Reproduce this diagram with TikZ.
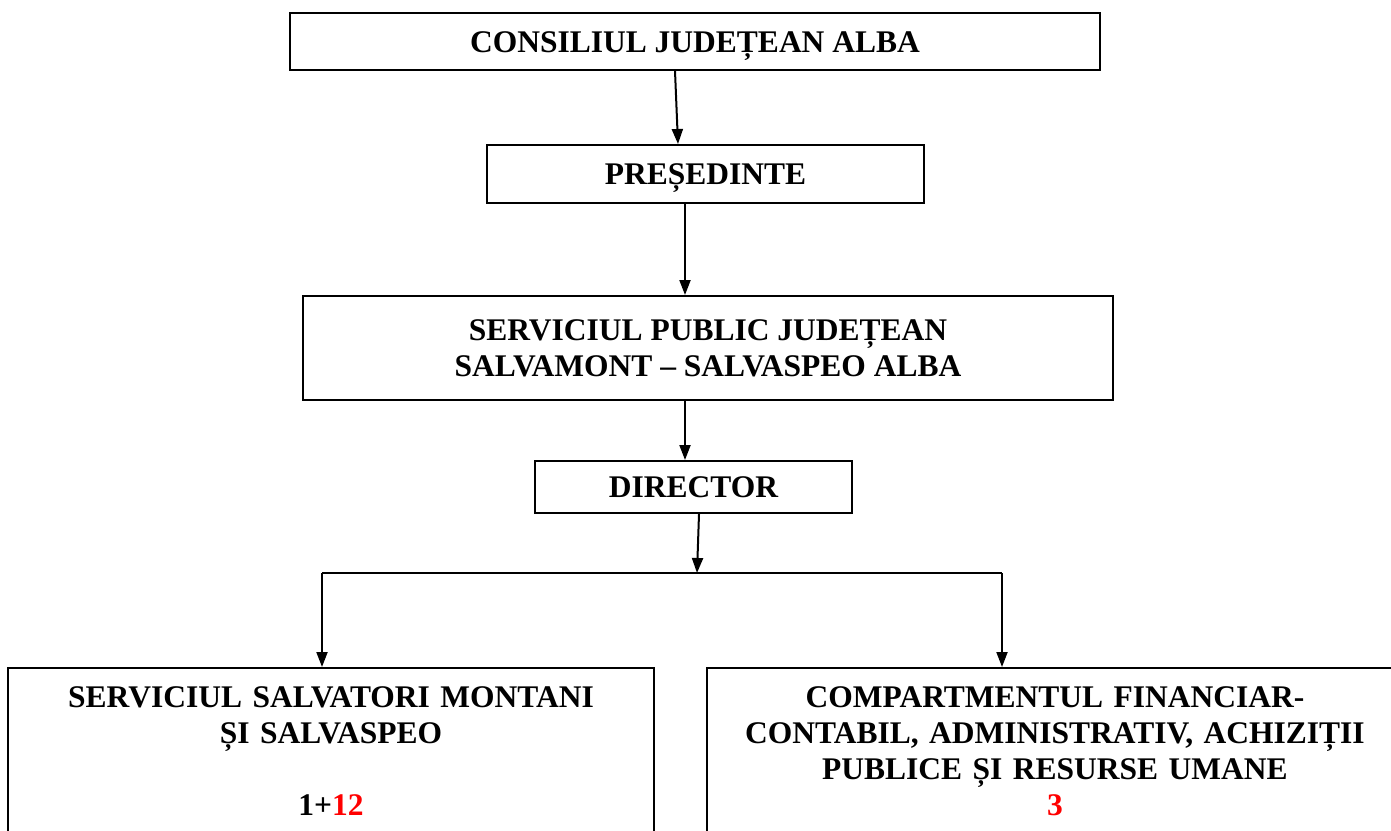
\documentclass[tikz,border=0pt]{standalone}
\usepackage{fontspec}
\setmainfont{Liberation Serif}
\usepackage{xcolor}
\usetikzlibrary{arrows.meta, positioning}
\tikzstyle{fBox} = [rectangle, draw=black, line width=2pt, inner sep=0pt, align=center, font=\bfseries\fontsize{31.5}{36}\selectfont]
\tikzstyle{fSingle} = [fBox, text height=21pt, text depth=0pt]
\tikzstyle{fBottom} = [fBox, anchor=north, inner ysep=19pt, text depth=150pt]
\tikzstyle{fArrow} = [line width=2pt, -{Triangle[length=15pt, width=11pt]}]
\begin{document}
\begin{tikzpicture}[x=1pt, y=-1pt]
    \useasboundingbox (0,0) rectangle (1391,830);
    \clip (0,0) rectangle (1391,830);
    \node (consiliu) [fSingle, minimum width=810, minimum height=57] at (695,41.5) {CONSILIUL JUDEȚEAN ALBA};
    \node (presedinte) [fSingle, minimum width=437, minimum height=58] at (705.5,174) {PREȘEDINTE};
    \node (serviciuPublic) [fBox, minimum width=810, minimum height=104] at (708,348) {SERVICIUL PUBLIC JUDEȚEAN\\SALVAMONT – SALVASPEO ALBA};
    \node (director) [fSingle, minimum width=317, minimum height=52] at (693.5,487) {DIRECTOR};
    \node (serviciuSalvatori) [fBottom, minimum width=646, text width=640] at (331,667) {SERVICIUL SALVATORI MONTANI\\ȘI SALVASPEO\\[36pt]1+\textcolor{red}{12}};
    \node (compartiment) [fBottom, minimum width=696, text width=690] at (1055,667) {COMPARTMENTUL FINANCIAR-\\CONTABIL, ADMINISTRATIV, ACHIZIȚII\\PUBLICE ȘI RESURSE UMANE\\\textcolor{red}{3}};
    \coordinate (bus) at (697,573);
    \coordinate (busLeft) at (322,573);
    \coordinate (busRight) at (1002,573);

    \draw [fArrow] ([xshift=-20pt]consiliu.south) -- ([xshift=-27.5pt]presedinte.north);
    \draw [fArrow] ([xshift=-20.5pt]presedinte.south) -- ([xshift=-23pt]serviciuPublic.north);
    \draw [fArrow] ([xshift=-23pt]serviciuPublic.south) -- ([xshift=-8.5pt]director.north);
    \draw [fArrow] ([xshift=5.5pt]director.south) -- (bus);
    \draw [line width=2pt] (busLeft) -- (busRight);
    \draw [fArrow] (busLeft) -- ([xshift=-9pt]serviciuSalvatori.north);
    \draw [fArrow] (busRight) -- ([xshift=-53pt]compartiment.north);
\end{tikzpicture}
\end{document}
